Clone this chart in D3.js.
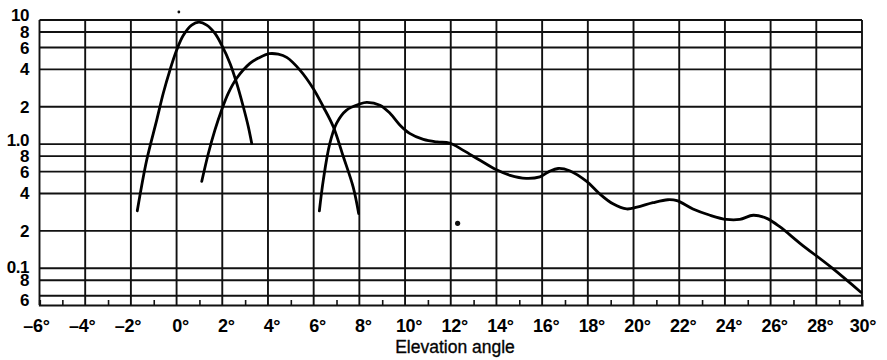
<!DOCTYPE html>
<html>
<head>
<meta charset="utf-8">
<script src="https://cdn.jsdelivr.net/npm/d3@7"></script>
<style>
  html, body { margin: 0; padding: 0; background: #fff; }
  svg { display: block; }
</style>
</head>
<body>
<svg id="chart" width="887" height="360"></svg>
<script>
// ---- data ----
const xTicks = [-6,-4,-2,0,2,4,6,8,10,12,14,16,18,20,22,24,26,28,30];
const xMinorTicks = [-5,-3,-1,1,3,5,7,9,11,13,15,17,19,21,23,25,27,29];
const yTicks = [10,8,6,4,2,1,0.8,0.6,0.4,0.2,0.1,0.08,0.06];
const yTickLabels = ["10","8","6","4","2","1.0","8","6","4","2","0.1","8","6"];
const xLabel = "Elevation angle";

const curve1 = [[-1.72,0.29],[-1.31,0.74],[-0.87,1.56],[-0.58,2.58],[-0.29,3.95],[0,5.7],[0.29,7.5],[0.66,9.1],[0.98,9.6],[1.32,9.1],[1.68,7.8],[1.97,6.3],[2.34,4.47],[2.63,3.1],[2.92,2.0],[3.14,1.38],[3.29,1.01]];
const curve2 = [[1.1,0.5],[1.39,0.84],[1.68,1.3],[1.98,1.9],[2.26,2.56],[2.63,3.39],[3.21,4.47],[3.6,4.95],[4.05,5.35],[4.45,5.3],[4.82,5.0],[5.4,3.95],[5.98,2.81],[6.42,2.0],[6.86,1.38],[7.3,0.79],[7.73,0.45],[7.97,0.276]];
const curve3 = [[6.25,0.29],[6.42,0.51],[6.7,1.0],[7.0,1.47],[7.44,1.88],[8.0,2.1],[8.32,2.17],[8.9,2.06],[9.34,1.77],[9.78,1.42],[10.2,1.22],[10.8,1.09],[11.4,1.04],[11.95,1.02],[12.55,0.89],[13.28,0.74],[14.0,0.62],[14.6,0.56],[15.3,0.53],[15.9,0.545],[16.3,0.6],[16.7,0.636],[17.2,0.61],[17.95,0.5],[18.5,0.4],[19.1,0.33],[19.7,0.30],[20.15,0.31],[20.85,0.337],[21.5,0.356],[21.9,0.35],[22.6,0.30],[23.35,0.267],[24.07,0.247],[24.65,0.247],[25.24,0.267],[25.83,0.252],[26.4,0.216],[27.3,0.158],[28.7,0.10],[29.95,0.064]];
const curves = [curve1, curve2, curve3];
const dots = [[12.3,0.23,2.6],[0.1,11.6,1.4]];

// ---- scales ----
const svg = d3.select("#chart");
const x = d3.scaleLinear().domain([-6,30]).range([39.5,862]);
const y = d3.scaleLog().domain([0.0505,10]).range([305,20]);
const FONT = "Liberation Sans, Arial, sans-serif";

const g = svg.append("g");

// horizontal grid
g.selectAll("line.h").data(yTicks).enter().append("line")
  .attr("x1", x(-6)).attr("x2", x(30))
  .attr("y1", d => y(d)).attr("y2", d => y(d))
  .attr("stroke", "#111").attr("stroke-width", 1.9);

// vertical grid
g.selectAll("line.v").data(xTicks).enter().append("line")
  .attr("x1", d => x(d)).attr("x2", d => x(d))
  .attr("y1", y(10)).attr("y2", y.range()[0])
  .attr("stroke", "#111").attr("stroke-width", 1.9);

// bottom axis with minor ticks
const xAxis = d3.axisBottom(x).tickValues(xMinorTicks).tickSize(-5).tickFormat("");
const ax = g.append("g").attr("transform", `translate(0,${y.range()[0]})`).call(xAxis);
ax.select(".domain").attr("stroke", "#111").attr("stroke-width", 2.2);
ax.selectAll(".tick line").attr("stroke", "#111").attr("stroke-width", 1.6);

// x labels
g.selectAll("text.xl").data(xTicks).enter().append("text")
  .attr("x", d => x(d) + (d < 0 ? -3 : (d === 30 ? 1 : 4)))
  .attr("y", 332)
  .attr("text-anchor", "middle")
  .attr("font-family", FONT)
  .attr("font-weight", "bold")
  .attr("font-size", 18)
  .attr("letter-spacing", -0.3)
  .text(d => (d < 0 ? "\u2013" + Math.abs(d) : d) + "\u00b0");

// y labels
const yShift = (i) => i === 0 ? -5.5 : (i === 5 ? -4 : (i === 10 ? -1.5 : (i === yTicks.length - 1 ? 4 : 0)));
g.selectAll("text.yl").data(yTicks).enter().append("text")
  .attr("x", 29)
  .attr("y", (d, i) => y(d) + 6 + yShift(i))
  .attr("text-anchor", "end")
  .attr("font-family", FONT)
  .attr("font-weight", "bold")
  .attr("font-size", 17)
  .attr("letter-spacing", -0.5)
  .text((d, i) => yTickLabels[i]);

// axis title
g.append("text")
  .attr("x", 455).attr("y", 353)
  .attr("text-anchor", "middle")
  .attr("font-family", FONT)
  .attr("font-size", 17.5)
  .attr("stroke", "#111").attr("stroke-width", 0.35)
  .text(xLabel);

// curves
const line = d3.line().x(d => x(d[0])).y(d => y(d[1])).curve(d3.curveCatmullRom.alpha(0.5));
g.selectAll("path.c").data(curves).enter().append("path")
  .attr("d", line)
  .attr("fill", "none").attr("stroke", "#000").attr("stroke-width", 2.8)
  .attr("stroke-linecap", "round").attr("stroke-linejoin", "round");

// dots
g.selectAll("circle.d").data(dots).enter().append("circle")
  .attr("cx", d => x(d[0])).attr("cy", d => y(d[1])).attr("r", d => d[2])
  .attr("fill", "#111");
</script>
</body>
</html>
